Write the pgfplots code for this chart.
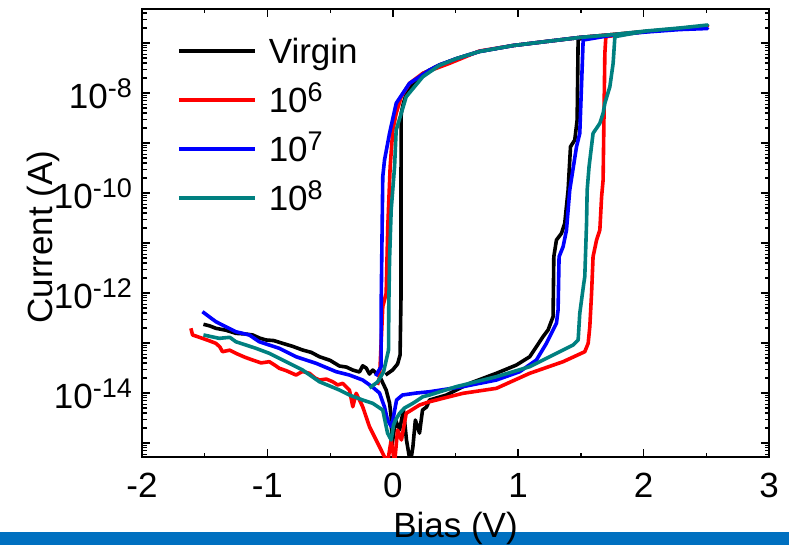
\documentclass[border=0pt]{standalone}
\usepackage{fontspec}
\setmainfont{Liberation Sans}
\usepackage{pgfplots}
\pgfplotsset{compat=1.18}
\definecolor{cteal}{RGB}{0,128,128}
\definecolor{barblue}{RGB}{0,112,192}
\newcommand{\sups}[1]{\raisebox{11pt}{\fontsize{27}{27}\selectfont #1}}
\newcommand{\bigf}{\fontsize{35}{35}\selectfont}
\pgfplotsset{curve/.style={line width=3.6pt, line join=round}}
\begin{document}
\begin{tikzpicture}
\useasboundingbox (0pt,0pt) rectangle (789pt,545pt);
\fill[barblue] (0pt,0pt) rectangle (789pt,13pt);
\begin{axis}[
  at={(142pt,88pt)}, anchor=south west,
  width=627pt, height=448pt, scale only axis,
  xmin=-2, xmax=3,
  ymode=log, ymin=5.25e-16, ymax=4.79e-7,
  xtick={-1.5,-0.5,0.5,1.5,2.5},
  xticklabels={},
  extra x ticks={-2,-1,0,1,2,3},
  extra x tick labels={-2,-1,0,1,2,3},
  extra x tick style={major tick length=8pt, major tick style={line width=1.5pt, black}},
  ytick={6e-16,7e-16,8e-16,9e-16,
    2e-15,3e-15,4e-15,5e-15,6e-15,7e-15,8e-15,9e-15,
    2e-14,3e-14,4e-14,5e-14,6e-14,7e-14,8e-14,9e-14,
    2e-13,3e-13,4e-13,5e-13,6e-13,7e-13,8e-13,9e-13,
    2e-12,3e-12,4e-12,5e-12,6e-12,7e-12,8e-12,9e-12,
    2e-11,3e-11,4e-11,5e-11,6e-11,7e-11,8e-11,9e-11,
    2e-10,3e-10,4e-10,5e-10,6e-10,7e-10,8e-10,9e-10,
    2e-9,3e-9,4e-9,5e-9,6e-9,7e-9,8e-9,9e-9,
    2e-8,3e-8,4e-8,5e-8,6e-8,7e-8,8e-8,9e-8,
    2e-7,3e-7,4e-7},
  yticklabels={},
  extra y ticks={1e-15,1e-14,1e-13,1e-12,1e-11,1e-10,1e-9,1e-8,1e-7},
  extra y tick labels={,10\sups{-14},,10\sups{-12},,10\sups{-10},,10\sups{-8},},
  extra y tick style={major tick length=8pt, major tick style={line width=1.5pt, black}},
  tick align=inside,
  major tick length=4.5pt,
  major tick style={line width=1.2pt, black},
  axis line style={line width=1.6pt},
  tick label style={font=\bigf},
  xticklabel style={anchor=base, yshift=-40pt, inner sep=0pt},
  yticklabel style={anchor=base east, inner sep=0pt, xshift=-10pt, yshift=-15pt},
  label style={font=\bigf},
  xlabel={Bias (V)},
  ylabel={Current (A)},
  xlabel style={at={(axis description cs:0.5,0)}, anchor=base, yshift=-80pt},
  ylabel style={at={(axis description cs:-0.1435,0.491)}, anchor=base},
  legend style={draw=none, fill=none, font=\bigf, inner sep=0pt,
    at={(axis description cs:0.0558,0.934)}, anchor=north west,
    row sep=24pt, column sep=12pt,
    nodes={inner sep=0pt, text height=25pt, text depth=0pt}},
  legend cell align=left,
  legend image code/.code={\draw[#1] (0pt,0pt) -- (76pt,0pt);},
]
\addplot[black, curve] coordinates {
(-1.510,2.37e-13) (-1.460,2.20e-13) (-1.411,1.97e-13) (-1.330,1.80e-13) (-1.251,1.56e-13)
(-1.180,1.52e-13) (-1.118,1.45e-13) (-1.060,1.25e-13) (-1.011,1.15e-13) (-0.950,1.12e-13)
(-0.879,9.86e-14) (-0.800,8.60e-14) (-0.719,7.24e-14) (-0.650,6.50e-14) (-0.585,5.32e-14)
(-0.500,4.50e-14) (-0.426,3.47e-14) (-0.370,3.30e-14) (-0.319,2.88e-14)
(-0.266,2.63e-14) (-0.240,3.50e-14) (-0.212,3.16e-14) (-0.186,2.40e-14) (-0.160,2.88e-14) (-0.106,2.19e-14)
(-0.053,1.15e-14) (-0.026,6.31e-15) (-0.013,3.31e-15) (-0.006,9.12e-16) (0.022,2.88e-15)
(0.054,1.82e-15) (0.085,4.57e-15) (0.109,1.15e-15) (0.14,4e-16) (0.16,8.3e-16)
(0.18,2.88e-15) (0.213,1.58e-15) (0.237,4.57e-15) (0.269,5.25e-15) (0.293,7.24e-15)
(0.427,9.1e-15) (0.613,1.56e-14) (0.826,2.48e-14) (0.986,3.63e-14) (1.092,5.32e-14)
(1.198,1.34e-13) (1.238,1.82e-13) (1.278,3.36e-13) (1.284,5.32e-12) (1.305,1.15e-11)
(1.345,1.56e-11) (1.371,2.48e-11) (1.398,1.15e-10) (1.417,8.43e-10) (1.451,1.15e-9)
(1.470,2.88e-9) (1.478,1.20e-7) (1.76,1.48e-7) (2.02,1.70e-7) (2.29,1.95e-7)
(2.51,2.19e-7) (2.29,1.95e-7) (2.02,1.70e-7) (1.76,1.48e-7) (1.49,1.29e-7)
(1.22,1.07e-7) (0.96,8.91e-8) (0.69,6.76e-8) (0.51,4.90e-8) (0.37,3.63e-8)
(0.24,2.45e-8) (0.16,1.55e-8) (0.11,1.0e-8) (0.085,6.31e-9) (0.067,3.9e-9)
(0.065,7.24e-11) (0.065,7.24e-13) (0.058,5.75e-14) (0.038,3.8e-14) (-0.002,2.88e-14)
(-0.058,2.29e-14)
};
\addlegendentry{Virgin}
\addplot[red, curve] coordinates {
(-1.610,1.97e-13) (-1.597,1.45e-13) (-1.518,1.24e-13) (-1.460,1.10e-13) (-1.411,9.86e-14)
(-1.380,8.40e-14) (-1.358,6.70e-14) (-1.300,7.20e-14) (-1.251,6.22e-14) (-1.180,5.20e-14)
(-1.118,4.57e-14) (-1.050,4.00e-14) (-0.985,4.23e-14) (-0.940,3.60e-14) (-0.905,3.12e-14)
(-0.850,2.80e-14) (-0.772,2.29e-14) (-0.720,2.70e-14) (-0.665,2.48e-14) (-0.620,2.00e-14)
(-0.585,1.82e-14) (-0.530,1.90e-14) (-0.479,1.68e-14) (-0.440,1.45e-14) (-0.399,1.56e-14)
(-0.346,1.15e-14) (-0.319,5.32e-15) (-0.292,9.86e-15) (-0.240,5.32e-15) (-0.186,2.12e-15)
(-0.133,1.15e-15) (-0.080,6.22e-16) (-0.042,4e-16) (-0.013,1.15e-15) (0.014,4e-16)
(0.038,1.82e-15) (0.069,1.15e-15) (0.107,3.93e-15) (0.149,4.57e-15) (0.213,5.75e-15)
(0.293,6.70e-15) (0.559,9.86e-15) (0.826,1.24e-14) (1.092,2.48e-14) (1.358,4.23e-14)
(1.531,6.70e-14) (1.558,9.86e-14) (1.571,2.12e-13) (1.585,9.86e-13) (1.597,5.32e-12)
(1.625,1.15e-11) (1.651,1.82e-11) (1.665,8.43e-11) (1.677,1.82e-10) (1.691,6.22e-8)
(1.699,1.34e-7) (2.02,1.70e-7) (2.29,1.95e-7) (2.51,2.19e-7) (2.29,1.95e-7)
(2.02,1.70e-7) (1.76,1.48e-7) (1.49,1.29e-7) (1.22,1.07e-7) (0.96,8.91e-8)
(0.69,6.9e-8) (0.453,3.93e-8) (0.240,2.48e-8) (0.133,1.56e-8) (0.067,8.43e-9)
(0.027,3.93e-9) (0.0,1.82e-9) (-0.021,3.36e-10) (-0.040,2.12e-11) (-0.053,9.86e-13)
(-0.080,5.32e-13) (-0.105,2.12e-14) (-0.122,1.45e-14)
};
\addlegendentry{10\sups{6}}
\addplot[blue, curve] coordinates {
(-1.518,4.23e-13) (-1.411,2.67e-13) (-1.251,1.68e-13) (-1.145,1.45e-13) (-1.065,1.06e-13)
(-0.905,7.83e-14) (-0.772,5.32e-14) (-0.612,3.93e-14) (-0.452,2.67e-14) (-0.346,2.29e-14)
(-0.240,1.82e-14) (-0.162,1.32e-14) (-0.106,1.0e-14) (-0.066,5.25e-15) (-0.042,2.88e-15)
(-0.010,2.09e-15) (0.030,7.24e-15) (0.077,9.12e-15) (0.189,1.0e-14) (0.293,1.06e-14)
(0.559,1.34e-14) (0.826,1.82e-14) (1.012,2.67e-14) (1.145,4.57e-14) (1.225,9.86e-14)
(1.278,1.82e-13) (1.305,2.48e-13) (1.318,4.57e-13) (1.326,5.32e-12) (1.358,8.43e-12)
(1.385,1.82e-11) (1.411,1.15e-10) (1.465,8.43e-10) (1.491,1.56e-9) (1.518,1.15e-7)
(1.76,1.45e-7) (2.02,1.66e-7) (2.29,1.86e-7) (2.51,1.95e-7) (2.29,1.86e-7)
(2.02,1.66e-7) (1.76,1.45e-7) (1.49,1.29e-7) (1.22,1.07e-7) (0.96,8.91e-8)
(0.69,6.76e-8) (0.51,4.90e-8) (0.37,3.63e-8) (0.293,2.88e-8) (0.133,1.56e-8)
(0.027,6.22e-9) (-0.026,1.56e-9) (-0.066,4.57e-10) (-0.080,2.12e-10) (-0.085,2.12e-11)
(-0.093,5.32e-13) (-0.093,3.36e-14) (-0.138,2.19e-14)
};
\addlegendentry{10\sups{7}}
\addplot[cteal, curve] coordinates {
(-1.510,1.45e-13) (-1.384,1.24e-13) (-1.300,1.30e-13) (-1.251,1.06e-13) (-1.091,7.83e-14) (-0.985,6.22e-14)
(-0.851,4.23e-14) (-0.719,2.88e-14) (-0.585,1.68e-14) (-0.426,1.15e-14) (-0.346,9.12e-15)
(-0.240,7.24e-15) (-0.160,6.22e-15) (-0.080,4.57e-15) (-0.042,1.58e-15) (-0.013,1.15e-15)
(0.006,2.29e-15) (0.022,2.88e-15) (0.054,3.93e-15) (0.093,5.01e-15) (0.160,6.22e-15)
(0.240,8.43e-15) (0.293,9.12e-15) (0.506,1.34e-14) (0.826,2.12e-14) (1.092,3.36e-14)
(1.305,6.22e-14) (1.438,9.12e-14) (1.478,1.15e-13) (1.491,3.93e-13) (1.523,1.56e-12)
(1.531,2.12e-12) (1.545,2.48e-11) (1.550,1.15e-10) (1.565,3.36e-10) (1.597,1.56e-9)
(1.651,2.48e-9) (1.677,3.93e-9) (1.691,6.22e-9) (1.731,1.34e-8) (1.757,3.93e-8)
(1.771,1.34e-7) (2.02,1.74e-7) (2.29,2.0e-7) (2.51,2.29e-7) (2.29,2.0e-7)
(2.02,1.74e-7) (1.76,1.48e-7) (1.49,1.29e-7) (1.22,1.07e-7) (0.96,8.91e-8)
(0.69,6.76e-8) (0.51,4.90e-8) (0.37,3.55e-8) (0.240,2.12e-8) (0.107,8.43e-9)
(0.027,1.82e-9) (0.014,3.36e-10) (-0.013,4.57e-11) (-0.026,4.57e-12) (-0.032,5.32e-13)
(-0.034,7.24e-14) (-0.074,2.63e-14) (-0.122,1.66e-14) (-0.186,1.26e-14)
};
\addlegendentry{10\sups{8}}
\end{axis}
\end{tikzpicture}
\end{document}
